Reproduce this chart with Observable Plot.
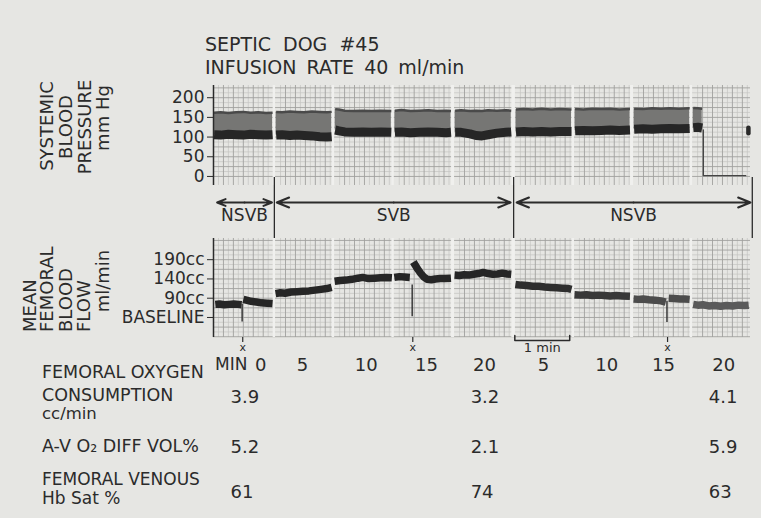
<!DOCTYPE html>
<html>
<head>
<meta charset="utf-8">
<script src="https://cdn.jsdelivr.net/npm/d3@7"></script>
<script src="https://cdn.jsdelivr.net/npm/@observablehq/plot@0.6"></script>
<style>
  html, body { margin: 0; padding: 0; background: #e6e6e3; }
  #chart { position: relative; width: 761px; height: 518px; overflow: hidden; background: #e6e6e3;
           font-family: "DejaVu Sans", sans-serif; color: #2b2b2b; }
  .lbl { position: absolute; white-space: nowrap; line-height: 1; }
  .rotc { transform: translate(-50%, -50%) rotate(-90deg); }
  .rotb { transform-origin: 0 0; transform: rotate(-90deg); }
</style>
</head>
<body>
<div id="chart"></div>
<script>
// ================= DATA =================
// Strip time axis: each recorder panel = 1 minute; x unit = panel index
const panelStart = [0.0, 1.04, 2.03, 3.03, 4.04, 5.06, 6.05, 7.04, 8.03];
const panelEnd   = [1.0, 1.99, 2.99, 3.99, 5.00, 6.01, 6.99, 7.99, 8.98];

// Systemic blood pressure, mm Hg: [position, systolic edge, diastolic band]
const bpP1 = [[0.01,162,106],[0.12,163,105],[0.25,161,107],[0.38,163,106],[0.5,164,105],[0.62,162,107],[0.75,163,106],[0.88,161,105],[0.99,162,106]];
const bpP2 = [[1.05,164,105],[1.15,163,106],[1.28,165,104],[1.4,164,105],[1.52,163,104],[1.65,165,103],[1.78,164,101],[1.9,163,100],[1.98,164,101]];
const bpP3 = [[2.04,171,118],[2.1,170,116],[2.2,167,113],[2.35,166,112],[2.5,167,113],[2.65,166,112],[2.8,167,113],[2.98,166,112]];
const bpP4 = [[3.04,167,112],[3.15,169,113],[3.3,166,111],[3.45,167,112],[3.6,168,113],[3.75,166,112],[3.9,167,111],[3.98,166,112]];
const bpP5 = [[4.05,167,112],[4.15,168,112],[4.3,166,108],[4.4,167,104],[4.5,166,103],[4.6,168,106],[4.75,167,110],[4.9,168,112],[4.99,167,113]];
const bpP6 = [[5.07,170,113],[5.2,171,114],[5.35,170,113],[5.5,172,114],[5.65,170,113],[5.8,171,114],[6.0,170,114]];
const bpP7 = [[6.06,171,116],[6.2,170,117],[6.35,172,116],[6.5,171,117],[6.65,172,118],[6.8,170,117],[6.98,171,118]];
const bpP8 = [[7.05,172,120],[7.2,171,121],[7.35,173,120],[7.5,172,121],[7.65,173,122],[7.8,172,121],[7.98,173,122]];
const bpP9 = [[8.04,174,124],[8.12,173,125],[8.19,172,123]];
const bpZeroTrace = [[8.21,118],[8.21,2],[8.92,2]];
const bpBlob = [[8.965,124],[8.965,110]];
const bpTicks = [0, 50, 100, 150, 200];

// Mean femoral blood flow, ml/min (cc)
const flowP1a = [[0.03,74],[0.1,75],[0.18,73],[0.26,74],[0.34,75],[0.42,74],[0.47,73]];
const flowP1b = [[0.5,87],[0.55,85],[0.63,82],[0.72,80],[0.8,78],[0.9,77],[0.99,76]];
const flowP2  = [[1.04,102],[1.12,104],[1.2,103],[1.3,106],[1.4,107],[1.5,108],[1.6,109],[1.7,111],[1.8,113],[1.9,115],[1.98,118]];
const flowP3  = [[2.03,134],[2.12,136],[2.22,137],[2.32,139],[2.42,142],[2.5,144],[2.6,141],[2.7,142],[2.8,143],[2.9,144],[2.99,143]];
const flowP4a = [[3.03,144],[3.12,146],[3.2,145],[3.29,144]];
const flowP4b = [[3.35,184],[3.38,176],[3.42,166],[3.47,155],[3.52,146],[3.58,139],[3.65,138],[3.72,140],[3.8,141],[3.88,141],[3.98,142]];
const flowP5  = [[4.04,150],[4.12,149],[4.2,151],[4.28,150],[4.36,152],[4.44,154],[4.52,157],[4.6,154],[4.68,152],[4.76,153],[4.84,155],[4.92,153],[4.99,152]];
const flowP6  = [[5.06,126],[5.15,124],[5.25,123],[5.35,121],[5.45,121],[5.55,119],[5.65,118],[5.75,117],[5.85,116],[5.95,115],[6.0,113]];
const flowP7  = [[6.05,99],[6.15,98],[6.25,99],[6.35,97],[6.45,98],[6.55,97],[6.65,96],[6.75,97],[6.85,96],[6.98,95]];
const flowP8a = [[7.04,88],[7.12,87],[7.2,88],[7.3,86],[7.4,85],[7.5,83],[7.58,80]];
const flowP8b = [[7.63,90],[7.72,89],[7.82,88],[7.9,88],[7.98,87]];
const flowP9  = [[8.04,74],[8.12,72],[8.2,73],[8.3,70],[8.4,71],[8.5,69],[8.6,71],[8.7,70],[8.8,72],[8.9,71],[8.97,72]];
const flowSpikes = [[0.48,74,28],[3.33,124,42],[7.6,82,27]];
const flowTicks = [40, 90, 140, 190];
const flowTickLabels = ["BASELINE", "90cc", "140cc", "190cc"];

// Periods of the experiment
const periodLabels = ["NSVB", "SVB", "NSVB"];
const periodStart  = [0.06, 1.06, 5.08];
const periodEnd    = [0.98, 4.98, 9.0];
const periodBounds = [1.02, 5.03, 9.03];

// Time labels (minutes) and sample marks
const timeLabels   = ["0", "5", "10", "15", "20", "5", "10", "15", "20"];
const timeLabelPos = [0.79, 1.49, 2.56, 3.57, 4.54, 5.53, 6.59, 7.54, 8.55];
const sampleMarks  = [0.49, 3.34, 7.61];
const oneMinute    = [5.05, 5.97];

// Table values
const samplePos     = [0.285, 4.31, 8.30];
const o2Consumption = [3.9, 3.2, 4.1];
const avO2Diff      = [5.2, 2.1, 5.9];
const venousHbSat   = [61, 74, 63];

// ================= BUILD =================
const chart = document.getElementById("chart");
const W = 761, ML = 213, MR = 11;
const FONT = '"DejaVu Sans", sans-serif';
const INK = "#2b2b2b";
const baseStyle = {fontFamily: FONT, fontSize: "17px", color: INK, background: "transparent", overflow: "visible"};

function place(svg, top) {
  svg.style.position = "absolute";
  svg.style.top = top + "px";
  svg.style.left = "0px";
  chart.appendChild(svg);
}
function label(text, left, capCenter, size, extra) {
  const d = document.createElement("div");
  d.className = "lbl";
  d.textContent = text;
  d.style.fontSize = size + "px";
  d.style.left = left + "px";
  d.style.top = (capCenter - 0.4815 * size) + "px";
  if (extra) Object.assign(d.style, extra);
  chart.appendChild(d);
  return d;
}
function rotCenter(text, cx, cy, size) {
  const d = document.createElement("div");
  d.className = "lbl rotc";
  d.textContent = text;
  d.style.fontSize = size + "px";
  d.style.left = cx + "px";
  d.style.top = cy + "px";
  chart.appendChild(d);
}
function rotBottom(text, cx, bottom, size) {
  const d = document.createElement("div");
  d.className = "lbl rotb";
  d.textContent = text;
  d.style.fontSize = size + "px";
  d.style.left = (cx - 0.4815 * size) + "px";
  d.style.top = bottom + "px";
  chart.appendChild(d);
}

// grid helpers (decoration)
const vGrid = panelStart.flatMap((s, i) => d3.range(s + 1/6, panelEnd[i] - 0.03, 1/6));
const vGridMinor = panelStart.flatMap((s, i) => d3.range(s + 1/12, panelEnd[i] - 0.02, 1/6));
const gaps = panelEnd.slice(0, -1).map((e, i) => ({x1: e, x2: panelStart[i + 1]}));
const GRID = "#a0a09e", GRIDMINOR = "#c4c4c2", GAP = "#f0f0ee";

// ---- Blood pressure strip ----
const bpPanels = [bpP1, bpP2, bpP3, bpP4, bpP5, bpP6, bpP7, bpP8, bpP9];
const bpRows = bpPanels.flatMap((pts, i) => pts.map(([pos, sys, dia]) => ({panel: i + 1, pos, sys, dia})));
const bpDomain = [-23, 231];
const bpPlot = Plot.plot({
  width: W, height: 100, marginLeft: ML, marginRight: MR, marginTop: 0, marginBottom: 0,
  style: baseStyle,
  x: {domain: [0, 9], axis: null},
  y: {domain: bpDomain, ticks: bpTicks, tickSize: 6, tickPadding: 3, label: null},
  marks: [
    Plot.ruleX(vGridMinor, {stroke: GRIDMINOR, strokeWidth: 0.7}),
    Plot.ruleY(d3.range(12.5, 231, 25), {stroke: GRIDMINOR, strokeWidth: 0.7}),
    Plot.ruleX(vGrid, {stroke: GRID, strokeWidth: 0.9}),
    Plot.ruleY(d3.range(0, 231, 25), {stroke: GRID, strokeWidth: 0.9}),
    Plot.rect(gaps, {x1: "x1", x2: "x2", fill: GAP}),
    Plot.areaY(bpRows, {x: "pos", y1: "dia", y2: "sys", z: "panel", fill: "#767674"}),
    Plot.line(bpRows, {x: "pos", y: "sys", z: "panel", stroke: "#4a4a4a", strokeWidth: 2.5, strokeLinecap: "butt"}),
    Plot.line(bpRows, {x: "pos", y: "dia", z: "panel", stroke: "#262626", strokeWidth: 9, strokeLinecap: "butt"}),
    Plot.line(bpZeroTrace, {x: d => d[0], y: d => d[1], stroke: "#444", strokeWidth: 1.3}),
    Plot.line(bpBlob, {x: d => d[0], y: d => d[1], stroke: "#2a2a2a", strokeWidth: 4.5, strokeLinecap: "round"}),
    Plot.ruleX([0], {stroke: INK, strokeWidth: 1.5})
  ]
});
place(bpPlot, 85);

// ---- Period arrows ----
const periods = periodLabels.map((l, i) => ({label: l, start: periodStart[i], end: periodEnd[i], mid: (periodStart[i] + periodEnd[i]) / 2}));
const midPlot = Plot.plot({
  width: W, height: 61, marginLeft: ML, marginRight: MR, marginTop: 0, marginBottom: 0,
  style: baseStyle,
  x: {domain: [0, 9], axis: null},
  y: {domain: [0, 61], range: [0, 61], axis: null},
  marks: [
    Plot.ruleX(periodBounds, {stroke: INK, strokeWidth: 1.3}),
    Plot.arrow(periods, {x1: "mid", x2: "start", y1: 25, y2: 25, stroke: INK, strokeWidth: 2, headLength: 10, headAngle: 44}),
    Plot.arrow(periods, {x1: "mid", x2: "end", y1: 25, y2: 25, stroke: INK, strokeWidth: 2, headLength: 10, headAngle: 44}),
    Plot.text(periods, {x: "mid", y: 38, text: "label", fontSize: 17, fill: INK})
  ]
});
place(midPlot, 177);

// ---- Femoral flow strip ----
const flowSegs = [[1, flowP1a], [1, flowP1b], [2, flowP2], [3, flowP3], [4, flowP4a], [4, flowP4b],
                  [5, flowP5], [6, flowP6], [7, flowP7], [8, flowP8a], [8, flowP8b], [9, flowP9]];
const flowRows = flowSegs.flatMap(([panel, pts], s) => pts.map(([pos, cc]) => ({panel, seg: s, pos, cc})));
const tone = p => p <= 5 ? "#262626" : p === 6 ? "#2e2e2e" : p === 7 ? "#383838" : p === 8 ? "#4c4c4c" : "#5a5a5a";
const flowPlot = Plot.plot({
  width: W, height: 99, marginLeft: ML, marginRight: MR, marginTop: 0, marginBottom: 0,
  style: baseStyle,
  x: {domain: [0, 9], axis: null},
  y: {domain: [-12, 245], ticks: flowTicks, tickFormat: d => flowTickLabels[flowTicks.indexOf(d)], tickSize: 6, tickPadding: 3, label: null},
  marks: [
    Plot.ruleX(vGridMinor, {stroke: GRIDMINOR, strokeWidth: 0.7}),
    Plot.ruleY(d3.range(2.5, 245, 25), {stroke: GRIDMINOR, strokeWidth: 0.7}),
    Plot.ruleX(vGrid, {stroke: GRID, strokeWidth: 0.9}),
    Plot.ruleY(d3.range(-10, 245, 25), {stroke: GRID, strokeWidth: 0.9}),
    Plot.rect(gaps, {x1: "x1", x2: "x2", fill: GAP}),
    Plot.ruleX(flowSpikes, {x: d => d[0], y1: d => d[1], y2: d => d[2], stroke: "#3a3a3a", strokeWidth: 1.5}),
    Plot.line(flowRows, {x: "pos", y: "cc", z: "seg", stroke: d => tone(d.panel), strokeWidth: 7.5, strokeLinecap: "butt", strokeLinejoin: "round"}),
    Plot.ruleX([0], {stroke: INK, strokeWidth: 1.5})
  ]
});
place(flowPlot, 238);

// ---- Time labels and table ----
const ROW = {tickTop: 0, tickBot: 5, xmark: 9.5, brTop: -2, brBot: 3, minLabel: 10.5, time: 27.5, cons: 59.5, avd: 109.5, sat: 155};
const timeRows = timeLabels.map((t, i) => ({t, pos: timeLabelPos[i]}));
const tableRows = samplePos.map((p, i) => ({pos: p, cons: o2Consumption[i], avd: avO2Diff[i], sat: venousHbSat[i]}));
const bracket = [[oneMinute[0], ROW.brTop], [oneMinute[0], ROW.brBot], [oneMinute[1], ROW.brBot], [oneMinute[1], ROW.brTop]];
const botPlot = Plot.plot({
  width: W, height: 181, marginLeft: ML, marginRight: MR, marginTop: 0, marginBottom: 0,
  style: baseStyle,
  x: {domain: [0, 9], axis: null},
  y: {domain: [0, 181], range: [0, 181], axis: null},
  marks: [
    Plot.ruleX(sampleMarks, {x: d => d, y1: ROW.tickTop, y2: ROW.tickBot, stroke: INK, strokeWidth: 1.2}),
    Plot.text(sampleMarks, {x: d => d, y: ROW.xmark, text: () => "x", fontSize: 11, fill: INK}),
    Plot.line(bracket, {x: d => d[0], y: d => d[1], stroke: INK, strokeWidth: 1.5}),
    Plot.text([oneMinute], {x: d => (d[0] + d[1]) / 2, y: ROW.minLabel, text: () => "1 min", fontSize: 13, fill: INK}),
    Plot.text(timeRows, {x: "pos", y: ROW.time, text: "t", fontSize: 18, fill: INK}),
    Plot.text(tableRows, {x: "pos", y: ROW.cons, text: d => d.cons.toFixed(1), textAnchor: "start", fontSize: 18, fill: INK}),
    Plot.text(tableRows, {x: "pos", y: ROW.avd, text: d => d.avd.toFixed(1), textAnchor: "start", fontSize: 18, fill: INK}),
    Plot.text(tableRows, {x: "pos", y: ROW.sat, text: d => String(d.sat), textAnchor: "start", fontSize: 18, fill: INK})
  ]
});
place(botPlot, 337);

// ---- Text labels ----
label("SEPTIC DOG #45", 205, 43.8, 19, {wordSpacing: "6px"});
label("INFUSION RATE 40 ml/min", 205, 66.7, 19, {wordSpacing: "4px"});

rotCenter("SYSTEMIC", 47, 126, 18);
rotCenter("BLOOD", 66, 127, 18);
rotCenter("PRESSURE", 85, 127, 18);
rotCenter("mm Hg", 103, 118, 18);

rotBottom("MEAN", 30, 332, 18);
rotBottom("FEMORAL", 47, 332, 18);
rotBottom("BLOOD", 66, 332, 18);
rotBottom("FLOW", 84, 332, 18);
rotCenter("ml/min", 103, 281, 18);

label("MIN", 215, 364.5, 17);
label("FEMORAL OXYGEN", 42, 372.5, 17.5);
label("CONSUMPTION", 42, 395, 17.5);
label("cc/min", 42, 413.5, 16.5);
label("A-V O\u2082 DIFF VOL%", 42, 446.5, 17.5);
label("FEMORAL VENOUS", 42, 479.5, 17);
label("Hb Sat %", 42, 498, 17);
</script>
</body>
</html>
